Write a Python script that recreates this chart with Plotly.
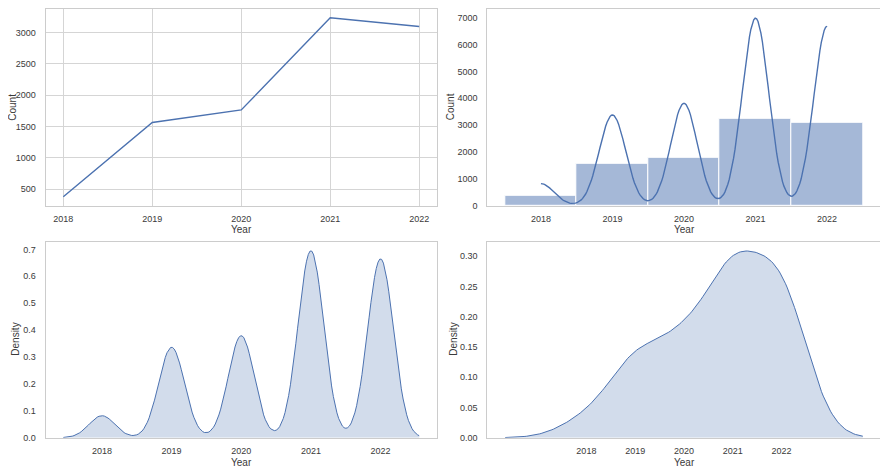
import numpy as np
import plotly.graph_objects as go
from plotly.subplots import make_subplots

# yearly counts
years = [2018, 2019, 2020, 2021, 2022]
counts = [380, 1565, 1765, 3235, 3095]

x_ticks = [2018, 2019, 2020, 2021, 2022]
count_ticks_line = [500, 1000, 1500, 2000, 2500, 3000]
count_ticks_hist = [0, 1000, 2000, 3000, 4000, 5000, 6000, 7000]
density_ticks_narrow = [0.0, 0.1, 0.2, 0.3, 0.4, 0.5, 0.6, 0.7]
density_ticks_wide = [0.00, 0.05, 0.10, 0.15, 0.20, 0.25, 0.30]

BLUE = "#4c72b0"
SPINE = "#cccccc"
TXT = "#3a3a3a"
FONT = "Liberation Sans"

# the page body adds an 8px margin, so the figure is 8px smaller and
# every page-pixel position below is shifted by OFF
W, H = 880, 460
OFF = 8


# Weighted gaussian KDE, Scott's rule like seaborn's kdeplot
def kde(values, weights, bw_adjust=1.0, cut=3.0, gridsize=200):
    v = np.asarray(values, dtype=float)
    w = np.asarray(weights, dtype=float)
    n = w.sum()
    mean = (v * w).sum() / n
    std = np.sqrt((w * (v - mean) ** 2).sum() / (n - 1))
    bw = std * n ** (-1 / 5) * bw_adjust
    xs = np.linspace(v.min() - cut * bw, v.max() + cut * bw, gridsize)
    z = (xs[:, None] - v[None, :]) / bw
    dens = (np.exp(-0.5 * z**2) * w).sum(axis=1) / (n * bw * np.sqrt(2 * np.pi))
    return xs, dens, n


def padded(lo, hi, frac=0.05):
    span = hi - lo
    return [lo - frac * span, hi + frac * span]


def px_x(p):
    return (p - OFF) / W


def px_y(p):
    return 1 - (p - OFF) / H


fig = make_subplots(rows=2, cols=2)

# top-left: line plot
fig.add_trace(
    go.Scatter(x=years, y=counts, mode="lines", line=dict(color=BLUE, width=1.4)),
    row=1, col=1,
)

# top-right: histogram with kde (cut=0, scaled to counts)
fig.add_trace(
    go.Bar(
        x=years, y=counts, width=1,
        marker=dict(color="rgba(76,114,176,0.5)", line=dict(color="white", width=1)),
    ),
    row=1, col=2,
)
kx, kd, ntot = kde(years, counts, cut=0)
fig.add_trace(
    go.Scatter(x=kx, y=kd * ntot, mode="lines", line=dict(color=BLUE, width=1.4)),
    row=1, col=2,
)

# bottom-left: default kde
bx, bd, _ = kde(years, counts)
fig.add_trace(
    go.Scatter(
        x=bx, y=bd, mode="lines", fill="tozeroy",
        fillcolor="rgba(76,114,176,0.25)", line=dict(color=BLUE, width=1),
    ),
    row=2, col=1,
)

# bottom-right: smoother kde
wx, wd, _ = kde(years, counts, bw_adjust=3)
fig.add_trace(
    go.Scatter(
        x=wx, y=wd, mode="lines", fill="tozeroy",
        fillcolor="rgba(76,114,176,0.25)", line=dict(color=BLUE, width=1),
    ),
    row=2, col=2,
)

# axes boxes in page pixels (left, right) and (top, bottom)
cols_px = [(45.5, 437.0), (487.3, 880.7)]
rows_px = [(8.8, 205.7), (241.7, 437.7)]
x_dom = [[px_x(a), px_x(b)] for a, b in cols_px]
y_dom = [[px_y(b), px_y(a)] for a, b in rows_px]

# axis title spots in page pixels
ytitle_x = [[12.5, 450.0], [16.0, 454.0]]
xtitle_y = [229.5, 462.5]

axis_common = dict(
    showline=True, mirror=True, linecolor=SPINE, linewidth=1,
    ticks="", zeroline=False, automargin=False,
    tickfont=dict(family=FONT, size=9, color=TXT),
)
title_font = dict(family=FONT, size=10, color=TXT)

panels = [
    (1, 1, padded(2018, 2022), padded(min(counts), max(counts)), count_ticks_line, "Count", True),
    (1, 2, padded(2017.5, 2022.5), [0, max(kd * ntot) * 1.05], count_ticks_hist, "Count", False),
    (2, 1, padded(bx.min(), bx.max()), [0, bd.max() * 1.05], density_ticks_narrow, "Density", False),
    (2, 2, padded(wx.min(), wx.max()), [0, wd.max() * 1.05], density_ticks_wide, "Density", False),
]

for r, c, xr, yr, yt, ylab, grid in panels:
    if ylab == "Density":
        fmt = "{:.2f}" if c == 2 else "{:.1f}"
        ytext = [fmt.format(t) for t in yt]
    else:
        ytext = [str(t) for t in yt]
    fig.update_xaxes(
        domain=x_dom[c - 1], range=xr, tickvals=x_ticks,
        showgrid=grid, gridcolor="#d5d5d5", gridwidth=1,
        ticklabelstandoff=4,
        **axis_common, row=r, col=c,
    )
    fig.update_yaxes(
        domain=y_dom[r - 1], range=yr, tickvals=yt, ticktext=ytext,
        showgrid=grid, gridcolor="#d5d5d5", gridwidth=1,
        ticklabelstandoff=7,
        **axis_common, row=r, col=c,
    )
    xd, yd = x_dom[c - 1], y_dom[r - 1]
    fig.add_annotation(
        text="Year", xref="paper", yref="paper",
        x=(xd[0] + xd[1]) / 2, y=px_y(xtitle_y[r - 1]),
        showarrow=False, font=title_font, xanchor="center", yanchor="middle",
    )
    fig.add_annotation(
        text=ylab, xref="paper", yref="paper", textangle=-90,
        x=px_x(ytitle_x[r - 1][c - 1]), y=(yd[0] + yd[1]) / 2,
        showarrow=False, font=title_font, xanchor="center", yanchor="middle",
    )

fig.update_layout(
    width=W, height=H,
    margin=dict(l=0, r=0, t=0, b=0),
    paper_bgcolor="white", plot_bgcolor="white",
    showlegend=False, bargap=0,
)

fig.write_html("out.html")
